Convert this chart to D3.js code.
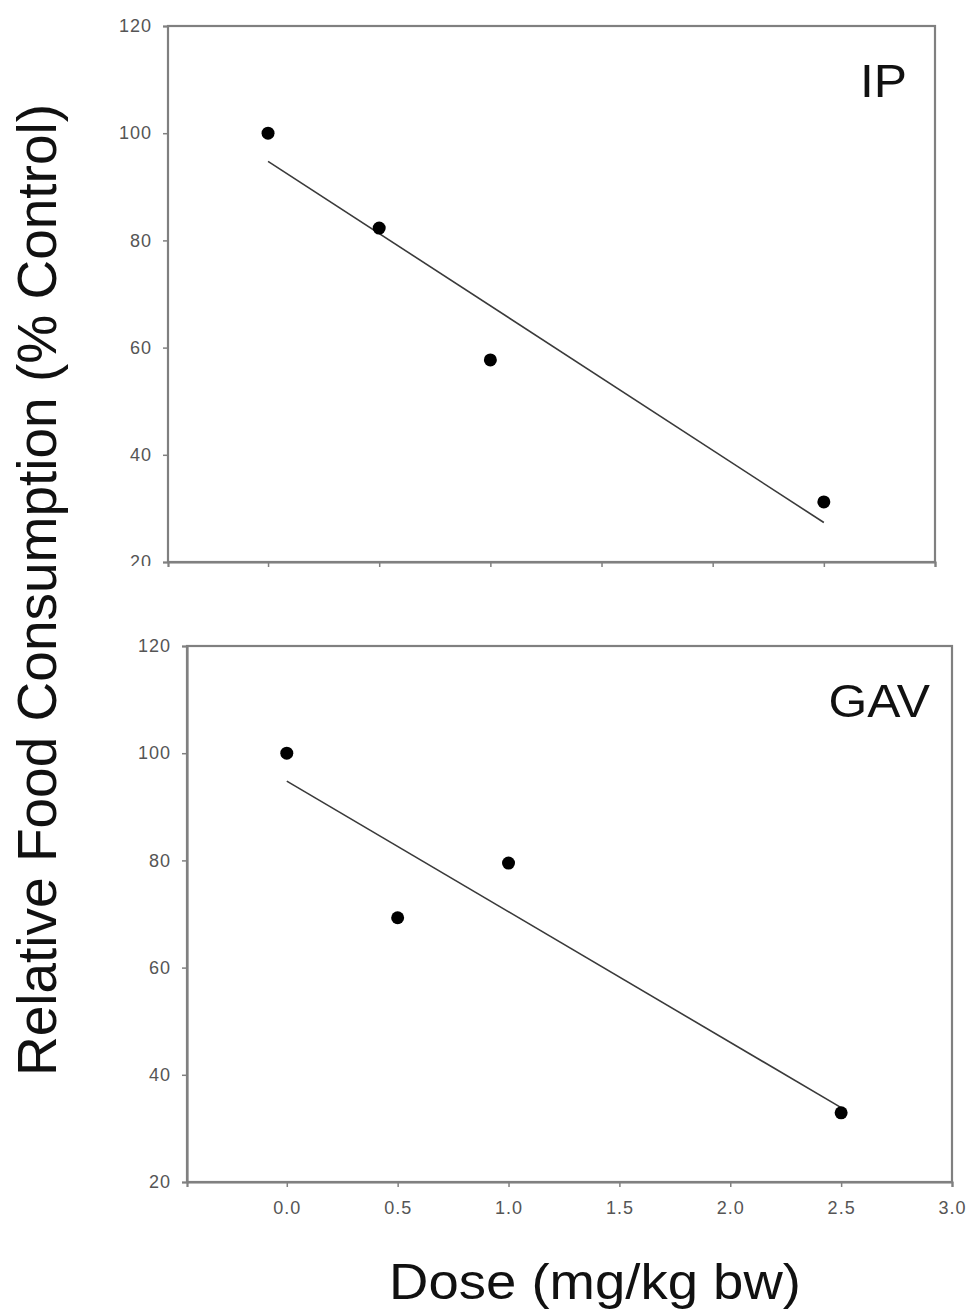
<!DOCTYPE html>
<html>
<head>
<meta charset="utf-8">
<script src="https://cdn.jsdelivr.net/npm/d3@7"></script>
<style>
  html, body { margin: 0; padding: 0; background: #fff; }
  svg { display: block; font-family: "Liberation Sans", Arial, sans-serif; }
</style>
</head>
<body>
<svg id="chart" width="971" height="1310"></svg>
<script>
// Dose levels (mg/kg bw) shared by both routes of administration
const doses = [0, 0.5, 1.0, 2.5];
// Relative food consumption (% of control), intraperitoneal route
const ipValues = [100, 82.3, 57.7, 31.2];
// Relative food consumption (% of control), gavage route
const gavValues = [100, 69.3, 79.5, 32.9];
// Axis ticks
const yTicks = [20, 40, 60, 80, 100, 120];
const xTicks = [0, 0.5, 1.0, 1.5, 2.0, 2.5, 3.0];
const xTickLabels = ["0.0", "0.5", "1.0", "1.5", "2.0", "2.5", "3.0"];
const panelNames = ["IP", "GAV"];

const svg = d3.select("#chart");
const axisColor = "#808080";

// Ordinary least-squares fit of y on x
function fitLine(xs, ys) {
  const mx = d3.mean(xs), my = d3.mean(ys);
  let sxy = 0, sxx = 0;
  xs.forEach((x, i) => { sxy += (x - mx) * (ys[i] - my); sxx += (x - mx) * (x - mx); });
  const slope = sxy / sxx;
  return { slope, intercept: my - slope * mx };
}

const panels = [
  { name: panelNames[0], values: ipValues, left: 168, right: 935, top: 26, bottom: 562,
    showXLabels: false, clipBottom: 566, nameX: 907, nameY: 97 },
  { name: panelNames[1], values: gavValues, left: 187, right: 952, top: 646, bottom: 1182,
    showXLabels: true, clipBottom: null, nameX: 930, nameY: 717 }
];

const defs = svg.append("defs");

panels.forEach((p, idx) => {
  const x = d3.scaleLinear().domain([-0.45, 3.0]).range([p.left, p.right]);
  const y = d3.scaleLinear().domain([20, 120]).range([p.bottom, p.top]);
  const g = svg.append("g");

  // frame
  g.append("rect")
    .attr("x", p.left).attr("y", p.top)
    .attr("width", p.right - p.left).attr("height", p.bottom - p.top)
    .attr("fill", "none").attr("stroke", axisColor).attr("stroke-width", 2.2);

  // y axis
  const yAxisG = g.append("g")
    .attr("transform", `translate(${p.left},0)`)
    .call(d3.axisLeft(y).tickValues(yTicks).tickSize(5).tickPadding(11).tickFormat(d3.format("d")));
  if (p.clipBottom !== null) {
    const cid = "clipY" + idx;
    defs.append("clipPath").attr("id", cid)
      .append("rect").attr("x", -200).attr("y", 0).attr("width", 200).attr("height", p.clipBottom);
    yAxisG.attr("clip-path", `url(#${cid})`);
  }

  // x axis
  const xAxis = d3.axisBottom(x).tickValues(xTicks).tickSize(5).tickPadding(14)
    .tickFormat((d, i) => p.showXLabels ? xTickLabels[i] : "");
  g.append("g")
    .attr("transform", `translate(0,${p.bottom})`)
    .call(xAxis);

  g.selectAll(".domain").attr("stroke", axisColor).attr("stroke-width", 2.2);
  g.selectAll(".tick line").attr("stroke", axisColor).attr("stroke-width", 1.5);
  g.selectAll(".tick text")
    .attr("fill", "#555").attr("font-size", 18)
    .attr("font-family", "'Liberation Sans', Arial, sans-serif")
    .style("letter-spacing", "1px");

  // regression line across the dose range
  const fit = fitLine(doses, p.values);
  const x0 = d3.min(doses), x1 = d3.max(doses);
  g.append("line")
    .attr("x1", x(x0)).attr("y1", y(fit.intercept + fit.slope * x0))
    .attr("x2", x(x1)).attr("y2", y(fit.intercept + fit.slope * x1))
    .attr("stroke", "#3a3a3a").attr("stroke-width", 1.6);

  // data points
  g.selectAll("circle.pt")
    .data(doses.map((d, i) => [d, p.values[i]]))
    .join("circle")
    .attr("class", "pt")
    .attr("cx", d => x(d[0])).attr("cy", d => y(d[1]))
    .attr("r", 6.5).attr("fill", "#000");

  // panel name
  g.append("text")
    .attr("text-anchor", "end")
    .attr("transform", `translate(${p.nameX},${p.nameY}) scale(1.06,1)`)
    .attr("font-size", 47).attr("fill", "#111")
    .text(p.name);
});

// axis titles
svg.append("text")
  .attr("text-anchor", "middle")
  .attr("transform", "translate(56,590) rotate(-90)")
  .attr("font-size", 55).attr("fill", "#111")
  .text("Relative Food Consumption (% Control)");

svg.append("text")
  .attr("text-anchor", "middle")
  .attr("transform", "translate(595,1299) scale(1.09,1)")
  .attr("font-size", 50).attr("fill", "#111")
  .text("Dose (mg/kg bw)");
</script>
</body>
</html>
